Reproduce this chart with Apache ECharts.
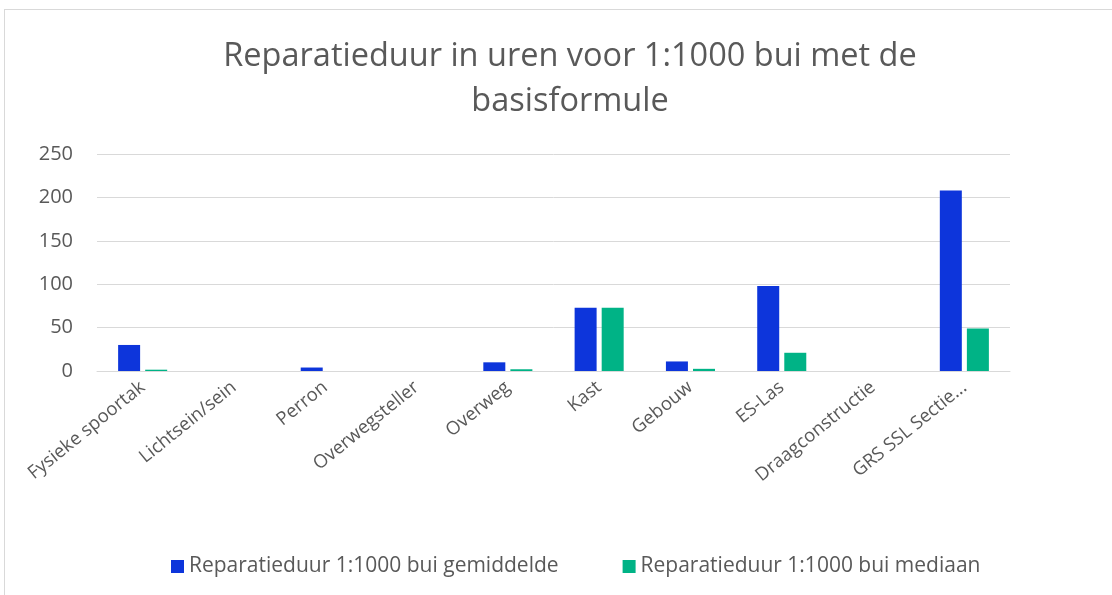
<!DOCTYPE html>
<html>
<head>
<meta charset="utf-8">
<script src="https://cdn.jsdelivr.net/npm/echarts@6/dist/echarts.min.js"></script>
<style>
  html, body { margin: 0; padding: 0; background: #fff; }
  .frame {
    position: absolute; left: 4px; top: 9px; width: 1120px; height: 600px;
    border: 1px solid #d9d9d9; box-sizing: border-box;
  }
  #chart { position: absolute; left: 0; top: 0; width: 1112px; height: 595px; }
</style>
</head>
<body>
<div class="frame"></div>
<div id="chart"></div>
<script>
// categorieen en waarden
var categories = ['Fysieke spoortak', 'Lichtsein/sein', 'Perron', 'Overwegsteller', 'Overweg',
  'Kast', 'Gebouw', 'ES-Las', 'Draagconstructie', 'GRS SSL Sectie...'];
var gemiddelde = [30, 0, 4, 0, 10, 73, 11, 98, 0, 208];
var mediaan = [1.5, 0, 0, 0, 2, 73, 2.5, 21, 0, 49];
var yTicks = [0, 50, 100, 150, 200, 250];

var textColor = '#595959';
var font = 'Open Sans';

var chart = echarts.init(document.getElementById('chart'));
chart.setOption({
  animation: false,
  title: {
    text: 'Reparatieduur in uren voor 1:1000 bui met de\nbasisformule',
    left: 565, textAlign: 'center', top: 29,
    textStyle: { fontFamily: font, fontSize: 32.5, fontWeight: 'normal', color: textColor, lineHeight: 45 }
  },
  grid: { left: 97, right: 102, top: 154, bottom: 224 },
  legend: {
    top: 551, left: 166, itemGap: 64, itemWidth: 13, itemHeight: 13, icon: 'rect',
    textStyle: { fontFamily: font, fontSize: 21, color: textColor }
  },
  xAxis: {
    type: 'category', data: categories,
    axisLine: { lineStyle: { color: '#d9d9d9', width: 1 } },
    axisTick: { show: false },
    axisLabel: { interval: 0, rotate: 39, margin: 14, fontFamily: font, fontSize: 18.5, color: textColor }
  },
  yAxis: {
    type: 'value', min: yTicks[0], max: yTicks[yTicks.length - 1], interval: 50,
    axisLine: { show: false }, axisTick: { show: false },
    splitLine: { lineStyle: { color: '#d9d9d9', width: 1 } },
    axisLabel: { margin: 24, fontFamily: font, fontSize: 20, color: textColor }
  },
  series: [
    {
      name: 'Reparatieduur 1:1000 bui gemiddelde', type: 'bar', data: gemiddelde,
      barWidth: 22, barGap: '23%', itemStyle: { color: '#0d35db' }
    },
    {
      name: 'Reparatieduur 1:1000 bui mediaan', type: 'bar', data: mediaan,
      barWidth: 22, itemStyle: { color: '#00b386' }
    }
  ]
});
</script>
</body>
</html>
